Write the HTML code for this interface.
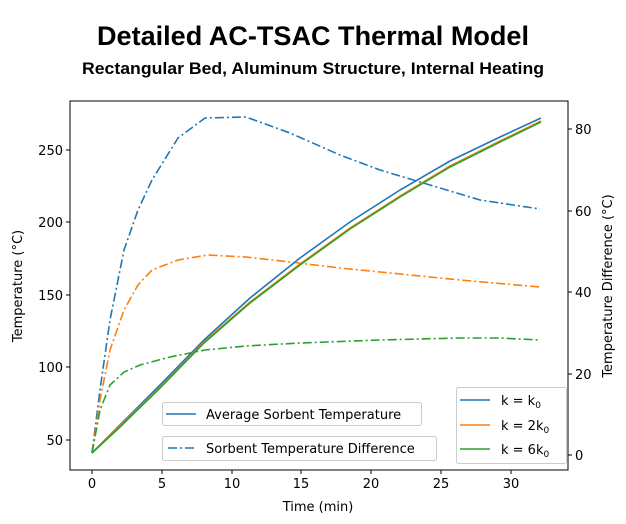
<!DOCTYPE html>
<html><head><meta charset="utf-8"><style>body{margin:0;background:#fff}svg{display:block}</style></head><body>
<svg width="626" height="524" xmlns="http://www.w3.org/2000/svg" font-family="'DejaVu Sans', 'Liberation Sans', sans-serif">
<rect width="626" height="524" fill="#fff"/>
<text x="313" y="45" text-anchor="middle" font-family="'Liberation Sans',sans-serif" font-weight="bold" font-size="27" textLength="432" lengthAdjust="spacingAndGlyphs">Detailed AC-TSAC Thermal Model</text>
<text x="313" y="74" text-anchor="middle" font-family="'Liberation Sans',sans-serif" font-weight="bold" font-size="17" textLength="462" lengthAdjust="spacingAndGlyphs">Rectangular Bed, Aluminum Structure, Internal Heating</text>
<g fill="none" stroke-width="1.6">
<polyline stroke="#1f77b4" stroke-dasharray="9,3,2,3" points="92,453 100,390 110,320 124,250 138,210 152,180 178,138 205,118 246,117 290,133 340,155 380,170 430,185 480,200 540,209"/>
<polyline stroke="#ff7f0e" stroke-dasharray="9,3,2,3" points="92,453 100,400 110,350 124,310 138,285 152,270 178,260 208,255 246,257 290,262 340,268 400,274 460,280 540,287"/>
<polyline stroke="#2ca02c" stroke-dasharray="9,3,2,3" points="92,453 100,410 110,385 124,372 140,365 170,357 205,350 246,346 300,343 380,340 460,338 500,338 540,340"/>
<polyline stroke="#1f77b4" points="92,453 120,425 160,385 204,340 250,298 300,258 350,222 400,190 450,161 500,137 541,118"/>
<polyline stroke="#ff7f0e" points="92,453 120,426 160,387 204,342 250,302 300,264 350,228 400,196 450,166 500,141 541,121"/>
<polyline stroke="#2ca02c" points="92,453 120,427 160,388 204,343 250,303 300,265 350,229 400,197 450,167 500,142 541,122"/>
</g>
<rect x="70" y="101" width="498" height="369" fill="none" stroke="#000" stroke-width="1"/>
<g stroke="#000" font-size="13" text-anchor="middle">
<line x1="92" y1="470" x2="92" y2="474"/><text x="92" y="488" stroke="none">0</text>
<line x1="162" y1="470" x2="162" y2="474"/><text x="162" y="488" stroke="none">5</text>
<line x1="232" y1="470" x2="232" y2="474"/><text x="232" y="488" stroke="none">10</text>
<line x1="301" y1="470" x2="301" y2="474"/><text x="301" y="488" stroke="none">15</text>
<line x1="371" y1="470" x2="371" y2="474"/><text x="371" y="488" stroke="none">20</text>
<line x1="441" y1="470" x2="441" y2="474"/><text x="441" y="488" stroke="none">25</text>
<line x1="511" y1="470" x2="511" y2="474"/><text x="511" y="488" stroke="none">30</text>
</g>
<g stroke="#000" font-size="13" text-anchor="end">
<line x1="66" y1="150" x2="70" y2="150"/><text x="63" y="155" stroke="none">250</text>
<line x1="66" y1="222" x2="70" y2="222"/><text x="63" y="227" stroke="none">200</text>
<line x1="66" y1="295" x2="70" y2="295"/><text x="63" y="300" stroke="none">150</text>
<line x1="66" y1="367" x2="70" y2="367"/><text x="63" y="372" stroke="none">100</text>
<line x1="66" y1="440" x2="70" y2="440"/><text x="63" y="445" stroke="none">50</text>
</g>
<g stroke="#000" font-size="13" text-anchor="start">
<line x1="568" y1="129" x2="572" y2="129"/><text x="575" y="134" stroke="none">80</text>
<line x1="568" y1="211" x2="572" y2="211"/><text x="575" y="216" stroke="none">60</text>
<line x1="568" y1="292" x2="572" y2="292"/><text x="575" y="297" stroke="none">40</text>
<line x1="568" y1="374" x2="572" y2="374"/><text x="575" y="379" stroke="none">20</text>
<line x1="568" y1="455" x2="572" y2="455"/><text x="575" y="460" stroke="none">0</text>
</g>
<text x="318" y="511" text-anchor="middle" font-size="13">Time (min)</text>
<text transform="translate(22,286) rotate(-90)" text-anchor="middle" font-size="13">Temperature (°C)</text>
<text transform="translate(612,286) rotate(-90)" text-anchor="middle" font-size="13">Temperature Difference (°C)</text>
<g font-size="13">
<rect x="162.5" y="402.5" width="259" height="23" rx="2" fill="#fff" stroke="#ccc"/>
<line x1="166" y1="414" x2="196" y2="414" stroke="#1f77b4" stroke-width="1.6"/>
<text x="206" y="419">Average Sorbent Temperature</text>
<rect x="162.5" y="436.5" width="274" height="24" rx="2" fill="#fff" stroke="#ccc"/>
<line x1="168" y1="448" x2="196" y2="448" stroke="#1f77b4" stroke-width="1.6" stroke-dasharray="9,3,2,3"/>
<text x="206" y="453">Sorbent Temperature Difference</text>
<rect x="456.5" y="387.5" width="110" height="76" rx="2" fill="#fff" stroke="#ccc"/>
<line x1="460" y1="400" x2="490" y2="400" stroke="#1f77b4" stroke-width="1.6"/>
<text x="501" y="405">k = k<tspan font-size="9" dy="3">0</tspan></text>
<line x1="460" y1="425" x2="490" y2="425" stroke="#ff7f0e" stroke-width="1.6"/>
<text x="501" y="430">k = 2k<tspan font-size="9" dy="3">0</tspan></text>
<line x1="460" y1="449" x2="490" y2="449" stroke="#2ca02c" stroke-width="1.6"/>
<text x="501" y="454">k = 6k<tspan font-size="9" dy="3">0</tspan></text>
</g>
</svg>
</body></html>
